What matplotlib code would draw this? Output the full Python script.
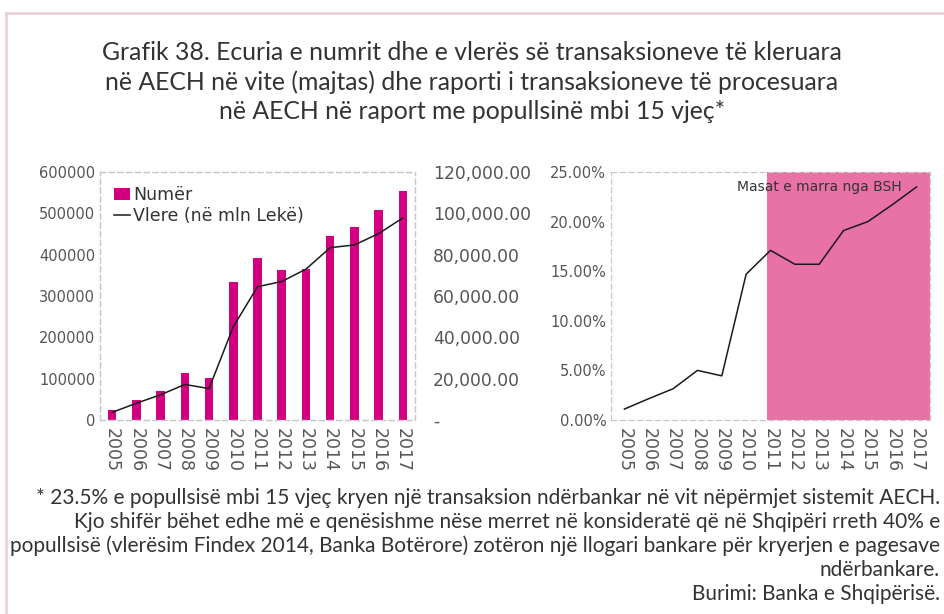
import matplotlib
matplotlib.use("Agg")
import matplotlib.pyplot as plt
from matplotlib.lines import Line2D
from matplotlib.ticker import FuncFormatter

plt.rcParams['font.family'] = ['DejaVu Sans']

# Te dhenat
years = ['2005', '2006', '2007', '2008', '2009', '2010', '2011',
         '2012', '2013', '2014', '2015', '2016', '2017']
numer = [24000, 48000, 71000, 113500, 102000, 333000, 392000,
         362000, 365000, 444000, 467000, 509000, 555000]
vlere = [3700, 8100, 12200, 17200, 15200, 45100, 64500,
         67000, 73000, 83400, 84700, 90200, 97800]
raporti = [1.1, 2.15, 3.15, 5.0, 4.45, 14.7, 17.1,
           15.7, 15.7, 19.1, 20.0, 21.7, 23.5]
masat_start = 5.86  # fillimi i zones roze (pozicion ne boshtin x)

title = ("Grafik 38. Ecuria e numrit dhe e vlerës së transaksioneve të kleruara\n"
         "në AECH në vite (majtas) dhe raporti i transaksioneve të procesuara\n"
         "në AECH në raport me popullsinë mbi 15 vjeç*")
footnote = ("* 23.5% e popullsisë mbi 15 vjeç kryen një transaksion ndërbankar në vit nëpërmjet sistemit AECH.\n"
            "Kjo shifër bëhet edhe më e qenësishme nëse merret në konsideratë që në Shqipëri rreth 40% e\n"
            "popullsisë (vlerësim Findex 2014, Banka Botërore) zotëron një llogari bankare për kryerjen e pagesave\n"
            "ndërbankare.\n"
            "Burimi: Banka e Shqipërisë.")

magenta = '#D2007E'
pink = '#E872A6'
grey = '#555555'
x = list(range(len(years)))

fig = plt.figure(figsize=(9.44, 6.14), dpi=100)

# korniza roze
fig.add_artist(Line2D([6 / 944, 6 / 944], [0, 1 - 13 / 614], transform=fig.transFigure,
                      color='#EBCFDD', lw=2))
fig.add_artist(Line2D([6 / 944, 1], [1 - 13 / 614, 1 - 13 / 614], transform=fig.transFigure,
                      color='#EBCFDD', lw=2))

fig.text(0.5, 1 - 82 / 614, title, ha='center', va='center', fontsize=17.8,
         color='#333333', linespacing=1.32, family='Lato')


def style_spines(ax):
    for s in ax.spines.values():
        s.set_linestyle((0, (4, 3)))
        s.set_color('#C8C8C8')
        s.set_linewidth(0.9)
    ax.tick_params(length=0, colors=grey, labelsize=10.5)
    ax.tick_params(axis='x', labelsize=12.5, pad=6)


# Grafiku majtas
ax1 = fig.add_axes([100 / 944, 1 - 420 / 614, 315 / 944, 248 / 614])
ax1.bar(x, numer, width=0.35, color=magenta, label='Numër')
ax1.set_ylim(0, 600000)
ax1.set_xlim(-0.5, 12.5)
ax1.set_yticks(range(0, 600001, 100000))
ax1.set_xticks(x)
ax1.set_xticklabels(years, rotation=-90)
style_spines(ax1)

ax2 = ax1.twinx()
ax2.plot(x, vlere, color='#1a1a1a', lw=1.1, label='Vlere (në mln Lekë)')
ax2.set_ylim(0, 120000)
ax2.set_yticks(range(0, 120001, 20000))
ax2.yaxis.set_major_formatter(FuncFormatter(lambda v, p: '-' if v == 0 else f'{v:,.2f}'))
style_spines(ax2)
ax2.tick_params(axis='y', labelsize=12.3, pad=13)

h1, l1 = ax1.get_legend_handles_labels()
h2, l2 = ax2.get_legend_handles_labels()
ax1.legend(h1 + h2, l1 + l2, loc='upper left', frameon=False, fontsize=12.5,
           handlelength=0.9, handletextpad=0.2, borderaxespad=0.4,
           labelspacing=0.2, labelcolor='#333333')

# Grafiku djathtas
ax3 = fig.add_axes([611 / 944, 1 - 420 / 614, 319 / 944, 248 / 614])
ax3.axvspan(masat_start, 12.55, color=pink, lw=0)
ax3.plot(x, raporti, color='#1a1a1a', lw=1.1)
ax3.set_ylim(0, 25)
ax3.set_xlim(-0.55, 12.55)
ax3.set_yticks(range(0, 26, 5))
ax3.yaxis.set_major_formatter(FuncFormatter(lambda v, p: f'{v:.2f}%'))
ax3.set_xticks(x)
ax3.set_xticklabels(years, rotation=-90)
style_spines(ax3)
ax3.text(11.4, 23.5, 'Masat e marra nga BSH', ha='right', va='center',
         fontsize=10, color='#333333')

fig.text(940 / 944, 1 - 546 / 614, footnote, ha='right', va='center', fontsize=15,
         color='#333333', linespacing=1.25, family='Lato')

fig.savefig('out.png', dpi=100)
